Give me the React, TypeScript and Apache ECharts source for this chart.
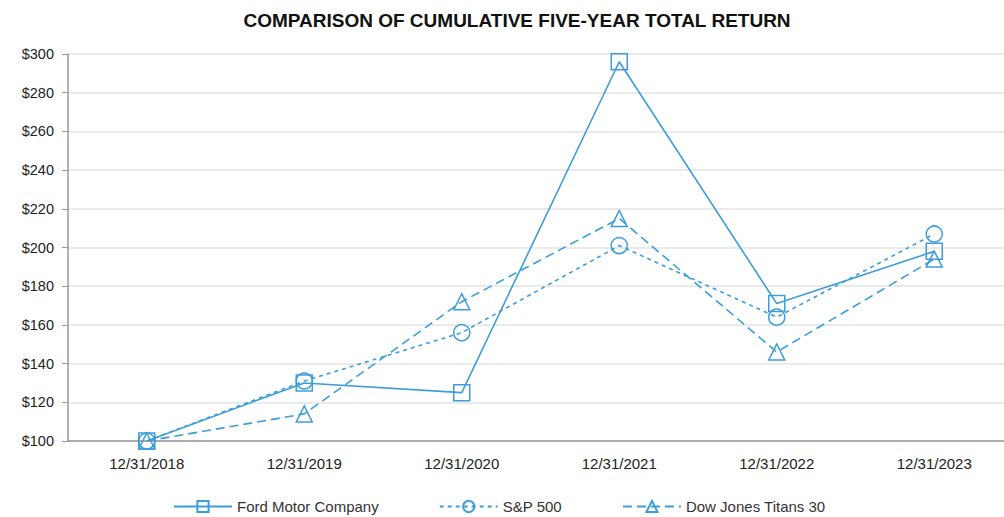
import React, { useEffect, useRef } from "react";
import * as echarts from "echarts";

const categories = ["12/31/2018", "12/31/2019", "12/31/2020", "12/31/2021", "12/31/2022", "12/31/2023"];
const ford = [100, 130, 125, 296, 171, 198];
const sp500 = [100, 131, 156, 201, 164, 207];
const dowTitans = [100, 114, 172, 215, 146, 194];
const yTicks = [100, 120, 140, 160, 180, 200, 220, 240, 260, 280, 300];

const BLUE = "#3d9ddb";

export default function App() {
  const ref = useRef<HTMLDivElement>(null);
  useEffect(() => {
    if (!ref.current) return;
    const chart = echarts.init(ref.current, undefined, { renderer: "svg" });
    const mk = (name: string, data: number[], symbol: string, type: any) => ({
      name,
      type: "line",
      data,
      symbol,
      symbolSize: 16,
      showAllSymbol: true,
      lineStyle: { color: BLUE, width: 1.6, type },
      itemStyle: { color: "rgba(255,255,255,0)", borderColor: BLUE, borderWidth: 1.5 },
      emphasis: { disabled: true },
    });
    chart.setOption({
      animation: false,
      title: {
        text: "COMPARISON OF CUMULATIVE FIVE-YEAR TOTAL RETURN",
        left: 512,
        textAlign: "center",
        top: 6,
        textStyle: { fontFamily: "Liberation Sans", fontWeight: "bold", fontSize: 19, color: "#111" },
      },
      grid: { left: 68, top: 54, width: 945, height: 387 },
      legend: {
        top: 494,
        left: 168,
        itemWidth: 58,
        itemHeight: 14,
        itemGap: 60,
        textStyle: { fontFamily: "Liberation Sans", fontSize: 15, color: "#333" },
        data: ["Ford Motor Company", "S&P 500", "Dow Jones Titans 30"],
      },
      xAxis: {
        type: "category",
        data: categories,
        boundaryGap: true,
        axisLine: { lineStyle: { color: "#999", width: 1.5 } },
        axisTick: { alignWithLabel: true, length: 6, lineStyle: { color: "#999" } },
        axisLabel: { fontFamily: "Liberation Sans", fontSize: 15, color: "#222", margin: 15 },
      },
      yAxis: {
        type: "value",
        min: 100,
        max: 300,
        interval: 20,
        axisLine: { show: true, lineStyle: { color: "#999", width: 1.5 } },
        axisTick: { show: true, length: 6, lineStyle: { color: "#999" } },
        splitLine: { lineStyle: { color: "#e3e3e3", width: 1.5 } },
        axisLabel: {
          fontFamily: "Liberation Sans",
          fontSize: 14.5,
          color: "#222",
          margin: 14,
          formatter: (v: number) => (yTicks.includes(v) ? "$" + v : ""),
        },
      },
      series: [
        mk("Ford Motor Company", ford, "rect", "solid"),
        mk("S&P 500", sp500, "circle", [4, 4]),
        mk("Dow Jones Titans 30", dowTitans, "triangle", [9, 5]),
      ],
    });
    return () => chart.dispose();
  }, []);
  return (
    <div style={{ width: 1004, height: 517, position: "absolute", left: 0, top: 0, overflow: "hidden", background: "#fff" }}>
      <div ref={ref} style={{ width: 1030, height: 517 }} />
    </div>
  );
}
